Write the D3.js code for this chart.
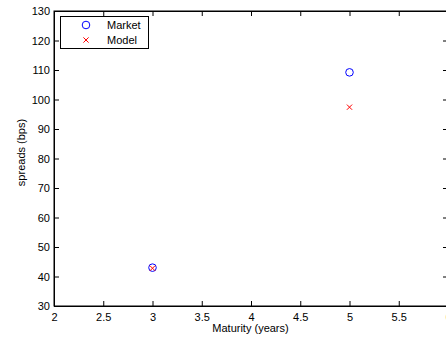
<!DOCTYPE html>
<html><head><meta charset="utf-8">
<script src="https://cdn.jsdelivr.net/npm/d3@7"></script>
<style>
body{margin:0;background:#fff;}
text{font-family:"Liberation Sans",Arial,sans-serif;}
</style></head>
<body><svg id="c" width="446" height="341"></svg>
<script>
const maturities = [3, 5];
const marketSpreads = [43, 109.2];
const modelSpreads = [42.8, 97.4];
const xTicks = [2, 2.5, 3, 3.5, 4, 4.5, 5, 5.5, 6];
const yTicks = [30, 40, 50, 60, 70, 80, 90, 100, 110, 120, 130];
const seriesNames = ["Market", "Model"];

const svg = d3.select("#c");
const L = 54, T = 11, R = 448, B = 306;
const x = d3.scaleLinear().domain([2, 6]).range([L, R]);
const y = d3.scaleLinear().domain([30, 130]).range([B, T]);
const fs = "11px";

svg.append("rect").attr("x", L).attr("y", T).attr("width", R - L).attr("height", B - T)
  .attr("fill", "none").attr("stroke", "#000").attr("stroke-width", 1);

const tl = 5;
const gx = svg.append("g").attr("transform", `translate(0,${B})`)
  .call(d3.axisBottom(x).tickValues(xTicks).tickSize(-tl).tickPadding(7).tickFormat(d3.format("")));
const gxt = svg.append("g").attr("transform", `translate(0,${T})`)
  .call(d3.axisTop(x).tickValues(xTicks).tickSize(-tl).tickFormat(""));
const gy = svg.append("g").attr("transform", `translate(${L},0)`)
  .call(d3.axisLeft(y).tickValues(yTicks).tickSize(-tl).tickPadding(4));
const gyr = svg.append("g").attr("transform", `translate(${R},0)`)
  .call(d3.axisRight(y).tickValues(yTicks).tickSize(-tl).tickFormat(""));
[gx, gxt, gy, gyr].forEach(g => {
  g.select(".domain").attr("stroke", "#000");
  g.selectAll(".tick line").attr("stroke", "#000");
  g.selectAll("text").attr("font-size", fs).attr("fill", "#000")
    .style("font-family", "'Liberation Sans',Arial,sans-serif");
});
gx.selectAll(".tick text").attr("dy", "0.71em");

svg.append("text").attr("x", 250.5).attr("y", 332).attr("text-anchor", "middle")
  .attr("font-size", "11px").text("Maturity (years)");
svg.append("text").attr("transform", `translate(24.5,152.5) rotate(-90)`)
  .attr("text-anchor", "middle").attr("font-size", "11px").text("spreads (bps)");

svg.selectAll("circle.mk").data(maturities).enter().append("circle")
  .attr("cx", d => x(d)).attr("cy", (d, i) => y(marketSpreads[i])).attr("r", 3.8)
  .attr("fill", "none").attr("stroke", "#0000ff").attr("stroke-width", 1);
const cs = 2.6;
const cross = (g, cx, cy) => {
  g.append("path").attr("d", `M${cx - cs},${cy - cs}L${cx + cs},${cy + cs}M${cx - cs},${cy + cs}L${cx + cs},${cy - cs}`)
    .attr("stroke", "#ff0000").attr("stroke-width", 1).attr("fill", "none");
};
const gm = svg.append("g");
maturities.forEach((d, i) => cross(gm, x(d), y(modelSpreads[i])));

const lg = svg.append("g");
lg.append("rect").attr("x", 60.5).attr("y", 16.5).attr("width", 88).attr("height", 32)
  .attr("fill", "#fff").attr("stroke", "#000");
lg.append("circle").attr("cx", 86).attr("cy", 25).attr("r", 3.8).attr("fill", "none").attr("stroke", "#0000ff");
cross(lg, 86, 40);
lg.append("text").attr("x", 107).attr("y", 29).attr("font-size", fs).text(seriesNames[0]);
lg.append("text").attr("x", 107).attr("y", 44).attr("font-size", fs).text(seriesNames[1]);
</script></body></html>
